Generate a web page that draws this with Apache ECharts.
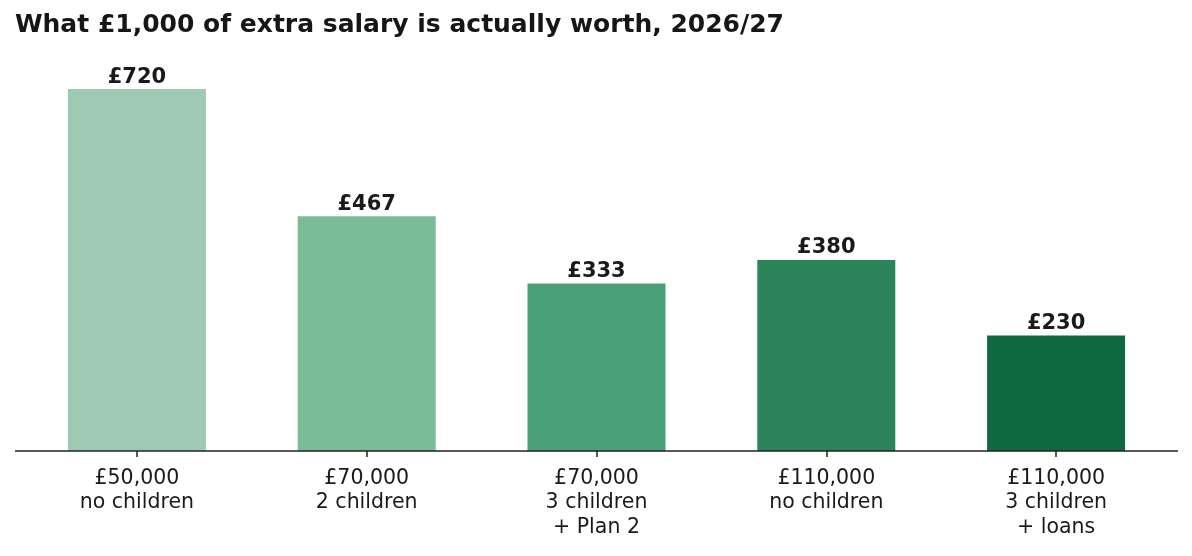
<!DOCTYPE html>
<html><head><meta charset="utf-8">
<script src="https://cdn.jsdelivr.net/npm/echarts@6/dist/echarts.min.js"></script>
<style>html,body{margin:0;padding:0;background:#fff}#c{width:1192px;height:556px}</style>
</head><body><div id="c"></div>
<script>
const categories = ['£50,000\nno children', '£70,000\n2 children', '£70,000\n3 children\n+ Plan 2', '£110,000\nno children', '£110,000\n3 children\n+ loans'];
const values = [720, 467, 333, 380, 230];
const labels = ['£720', '£467', '£333', '£380', '£230'];
const colors = ['#9ec9b2', '#7cbb98', '#4aa077', '#2c845a', '#0e6a3e'];

const chart = echarts.init(document.getElementById('c'), null, {renderer: 'canvas'});
const font = 'DejaVu Sans';
chart.setOption({
  animation: false,
  title: {text: 'What £1,000 of extra salary is actually worth, 2026/27', left: 10, top: 8,
    textStyle: {fontFamily: font, fontWeight: 'bold', fontSize: 25, color: '#161616'}},
  grid: {left: 22, right: 21, top: 69, bottom: 105},
  xAxis: {type: 'category', data: categories, boundaryGap: true,
    axisLine: {show: false},
    axisTick: {show: true, alignWithLabel: true, length: 6, lineStyle: {color: '#222', width: 1.5}},
    axisLabel: {fontFamily: font, fontSize: 20.5, color: '#1a1a1a', lineHeight: 24.5, margin: 15}},
  yAxis: {type: 'value', min: 0, max: 760, show: false, splitLine: {show: false}},
  series: [{type: 'bar', barWidth: 138,
    data: values.map((v, i) => ({value: v, itemStyle: {color: colors[i]}})),
    label: {show: true, position: 'top', distance: 1.5, fontFamily: font, fontWeight: 'bold', fontSize: 21, color: '#1a1a1a',
      formatter: p => labels[p.dataIndex]}}],
  graphic: []
});
const y0 = chart.convertToPixel({yAxisIndex: 0}, 0);
chart.setOption({graphic: [{type: 'line', shape: {x1: 15, y1: y0, x2: 1178, y2: y0}, style: {stroke: '#222', lineWidth: 1.5}, z: 10}]});
</script></body></html>
